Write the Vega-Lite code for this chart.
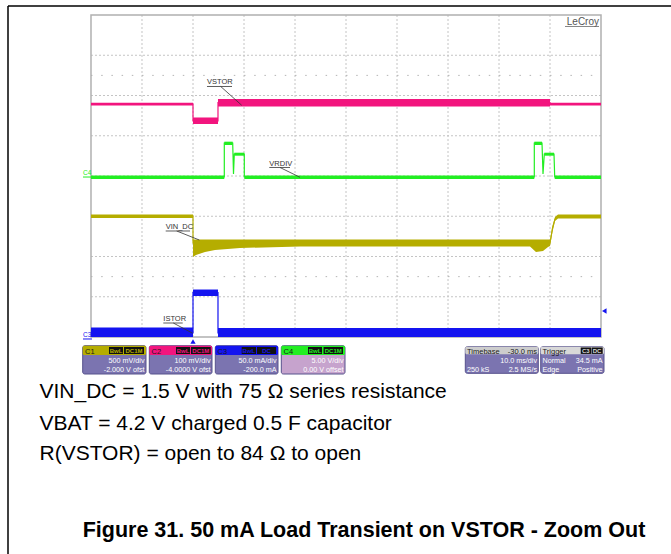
{
"$schema": "https://vega.github.io/schema/vega-lite/v6.json",
"width": 671, "height": 554, "autosize": {"type": "none"}, "padding": 0,
"background": "white",
"config": {"view": {"stroke": null}, "font": "Liberation Sans"},
"encoding": {
 "x": {"field": "t", "type": "quantitative", "scale": {"domain": [-37.843, 93.725], "nice": false, "zero": false}, "axis": null},
 "y": {"field": "d", "type": "quantitative", "scale": {"domain": [-9.391, 4.373], "nice": false, "zero": false}, "axis": null}
},
"datasets": {
 "grid": [
  {"t": -10, "d": -4, "t2": -10, "d2": 4}, {"t": 0, "d": -4, "t2": 0, "d2": 4}, {"t": 10, "d": -4, "t2": 10, "d2": 4},
  {"t": 20, "d": -4, "t2": 20, "d2": 4}, {"t": 30, "d": -4, "t2": 30, "d2": 4}, {"t": 40, "d": -4, "t2": 40, "d2": 4},
  {"t": 50, "d": -4, "t2": 50, "d2": 4}, {"t": 60, "d": -4, "t2": 60, "d2": 4}, {"t": 70, "d": -4, "t2": 70, "d2": 4},
  {"t": -20, "d": -3, "t2": 80, "d2": -3}, {"t": -20, "d": -2, "t2": 80, "d2": -2}, {"t": -20, "d": -1, "t2": 80, "d2": -1},
  {"t": -20, "d": 0, "t2": 80, "d2": 0}, {"t": -20, "d": 1, "t2": 80, "d2": 1}, {"t": -20, "d": 2, "t2": 80, "d2": 2},
  {"t": -20, "d": 3, "t2": 80, "d2": 3}
 ],
 "dots": [{"t": -20, "d": 2.5, "t2": 80, "d2": 2.5}, {"t": -20, "d": -2.5, "t2": 80, "d2": -2.5}],
 "border": [{"t": -20, "d": -4, "t2": 80, "d2": 4}],
 "bands": [
  {"ch": "C2", "seg": "a1", "t": -20, "d": 1.819, "d2": 1.752}, {"ch": "C2", "seg": "a1", "t": 0, "d": 1.819, "d2": 1.752},
  {"ch": "C2", "seg": "a2", "t": 0, "d": 1.454, "d2": 1.292}, {"ch": "C2", "seg": "a2", "t": 4.9, "d": 1.454, "d2": 1.292},
  {"ch": "C2", "seg": "a3", "t": 4.9, "d": 1.913, "d2": 1.727}, {"ch": "C2", "seg": "a3", "t": 70, "d": 1.913, "d2": 1.727},
  {"ch": "C2", "seg": "a4", "t": 70, "d": 1.819, "d2": 1.752}, {"ch": "C2", "seg": "a4", "t": 80, "d": 1.819, "d2": 1.752},
  {"ch": "C4", "seg": "g1", "t": -20, "d": 0.013, "d2": -0.074}, {"ch": "C4", "seg": "g1", "t": 6.137, "d": 0.013, "d2": -0.074},
  {"ch": "C4", "seg": "g2", "t": 6.137, "d": 0.853, "d2": 0.771}, {"ch": "C4", "seg": "g2", "t": 7.784, "d": 0.853, "d2": 0.771},
  {"ch": "C4", "seg": "g3", "t": 8.098, "d": 0.579, "d2": 0.505}, {"ch": "C4", "seg": "g3", "t": 10.059, "d": 0.579, "d2": 0.505},
  {"ch": "C4", "seg": "g4", "t": 10.059, "d": 0.013, "d2": -0.074}, {"ch": "C4", "seg": "g4", "t": 66.922, "d": 0.013, "d2": -0.074},
  {"ch": "C4", "seg": "g5", "t": 66.922, "d": 0.853, "d2": 0.771}, {"ch": "C4", "seg": "g5", "t": 68.432, "d": 0.853, "d2": 0.771},
  {"ch": "C4", "seg": "g6", "t": 68.883, "d": 0.579, "d2": 0.505}, {"ch": "C4", "seg": "g6", "t": 70.785, "d": 0.579, "d2": 0.505},
  {"ch": "C4", "seg": "g7", "t": 70.922, "d": 0.013, "d2": -0.074}, {"ch": "C4", "seg": "g7", "t": 80, "d": 0.013, "d2": -0.074},
  {"ch": "C1", "seg": "y1", "t": -20, "d": -0.956, "d2": -1.043}, {"ch": "C1", "seg": "y1", "t": 0, "d": -0.956, "d2": -1.043},
  {"ch": "C1", "seg": "y2", "t": 0, "d": -1.577, "d2": -2.012}, {"ch": "C1", "seg": "y2", "t": 0.588, "d": -1.577, "d2": -1.962},
  {"ch": "C1", "seg": "y2", "t": 2.353, "d": -1.577, "d2": -1.888}, {"ch": "C1", "seg": "y2", "t": 4.314, "d": -1.577, "d2": -1.838},
  {"ch": "C1", "seg": "y2", "t": 9.216, "d": -1.577, "d2": -1.789}, {"ch": "C1", "seg": "y2", "t": 20.981, "d": -1.577, "d2": -1.751},
  {"ch": "C1", "seg": "y2", "t": 66.079, "d": -1.577, "d2": -1.751}, {"ch": "C1", "seg": "y2", "t": 67.255, "d": -1.577, "d2": -1.888},
  {"ch": "C1", "seg": "y2", "t": 68.628, "d": -1.577, "d2": -1.863}, {"ch": "C1", "seg": "y2", "t": 69.608, "d": -1.577, "d2": -1.764},
  {"ch": "C1", "seg": "y2", "t": 70, "d": -1.577, "d2": -1.739},
  {"ch": "C1", "seg": "y3", "t": 70, "d": -1.6, "d2": -1.739}, {"ch": "C1", "seg": "y3", "t": 70.49, "d": -1.242, "d2": -1.391},
  {"ch": "C1", "seg": "y3", "t": 70.98, "d": -1.018, "d2": -1.118}, {"ch": "C1", "seg": "y3", "t": 71.569, "d": -0.956, "d2": -1.055},
  {"ch": "C1", "seg": "y3", "t": 80, "d": -0.956, "d2": -1.055},
  {"ch": "C3", "seg": "b1", "t": -20, "d": -3.764, "d2": -4.0}, {"ch": "C3", "seg": "b1", "t": 0, "d": -3.764, "d2": -4.0},
  {"ch": "C3", "seg": "b2", "t": 0, "d": -2.82, "d2": -2.981}, {"ch": "C3", "seg": "b2", "t": 4.9, "d": -2.82, "d2": -2.981},
  {"ch": "C3", "seg": "b3", "t": 4.9, "d": -3.776, "d2": -4.0}, {"ch": "C3", "seg": "b3", "t": 80, "d": -3.776, "d2": -4.0}
 ],
 "lines": [
  {"ch": "C2", "i": 1, "t": -20, "d": 1.784}, {"ch": "C2", "i": 2, "t": 0, "d": 1.784}, {"ch": "C2", "i": 3, "t": 0, "d": 1.367},
  {"ch": "C2", "i": 4, "t": 4.9, "d": 1.367}, {"ch": "C2", "i": 5, "t": 4.9, "d": 1.826}, {"ch": "C2", "i": 6, "t": 70, "d": 1.826},
  {"ch": "C2", "i": 7, "t": 70, "d": 1.784}, {"ch": "C2", "i": 8, "t": 80, "d": 1.784},
  {"ch": "C4", "i": 1, "t": -20, "d": -0.025}, {"ch": "C4", "i": 2, "t": 6.137, "d": -0.025}, {"ch": "C4", "i": 3, "t": 6.137, "d": 0.82},
  {"ch": "C4", "i": 4, "t": 7.784, "d": 0.82}, {"ch": "C4", "i": 5, "t": 7.941, "d": 0.05}, {"ch": "C4", "i": 6, "t": 8.098, "d": 0.547},
  {"ch": "C4", "i": 7, "t": 10.059, "d": 0.547}, {"ch": "C4", "i": 8, "t": 10.059, "d": -0.025}, {"ch": "C4", "i": 9, "t": 66.922, "d": -0.025},
  {"ch": "C4", "i": 10, "t": 66.922, "d": 0.82}, {"ch": "C4", "i": 11, "t": 68.432, "d": 0.82}, {"ch": "C4", "i": 12, "t": 68.628, "d": 0.05},
  {"ch": "C4", "i": 13, "t": 68.883, "d": 0.547}, {"ch": "C4", "i": 14, "t": 70.785, "d": 0.547}, {"ch": "C4", "i": 15, "t": 70.922, "d": -0.025},
  {"ch": "C4", "i": 16, "t": 80, "d": -0.025},
  {"ch": "C1", "i": 1, "t": -20, "d": -0.993}, {"ch": "C1", "i": 2, "t": 0, "d": -0.993}, {"ch": "C1", "i": 3, "t": 0, "d": -1.664},
  {"ch": "C1", "i": 4, "t": 70, "d": -1.664}, {"ch": "C1", "i": 5, "t": 70.49, "d": -1.292}, {"ch": "C1", "i": 6, "t": 70.98, "d": -1.068},
  {"ch": "C1", "i": 7, "t": 71.569, "d": -1.006}, {"ch": "C1", "i": 8, "t": 80, "d": -1.006},
  {"ch": "C3", "i": 1, "t": -20, "d": -3.9}, {"ch": "C3", "i": 2, "t": 0, "d": -3.9}, {"ch": "C3", "i": 3, "t": 0, "d": -2.894},
  {"ch": "C3", "i": 4, "t": 4.9, "d": -2.894}, {"ch": "C3", "i": 5, "t": 4.9, "d": -3.9}, {"ch": "C3", "i": 6, "t": 80, "d": -3.9}
 ],
 "leaders": [
  {"t": 2.745, "d": 2.224, "t2": 7.647, "d2": 2.224}, {"t": 5.432, "d": 2.224, "t2": 9.55, "d2": 1.757},
  {"t": 14.961, "d": 0.212, "t2": 19.02, "d2": 0.212}, {"t": 17.059, "d": 0.212, "t2": 20.98, "d2": -0.032},
  {"t": -5.353, "d": -1.366, "t2": -0.588, "d2": -1.366}, {"t": -3.196, "d": -1.366, "t2": 1.235, "d2": -1.59},
  {"t": -5.823, "d": -3.652, "t2": -2.019, "d2": -3.652}, {"t": -3.863, "d": -3.652, "t2": -0.059, "d2": -3.908}
 ],
 "labels": [
  {"txt": "VSTOR", "t": 2.745, "d": 2.286}, {"txt": "VRDIV", "t": 14.961, "d": 0.256},
  {"txt": "VIN_DC", "t": -5.353, "d": -1.316}, {"txt": "ISTOR", "t": -5.823, "d": -3.602}
 ],
 "brand": [{"txt": "LeCroy", "t": 79.608, "d": 3.752}],
 "brandline": [{"t": 72.941, "d": 3.715, "t2": 79.608, "d2": 3.715}],
 "markers": [{"ch": "C4", "txt": "C4", "t": -21.568, "d": 0.025}, {"ch": "C3", "txt": "C3", "t": -21.568, "d": -4.0}],
 "markerlines": [{"ch": "C4", "t": -21.568, "d": -0.025, "t2": -19.804, "d2": -0.025}, {"ch": "C3", "t": -21.568, "d": -4.049, "t2": -19.804, "d2": -4.049}],
 "triangles": [{"k": "pos", "t": 0, "d": -4.111}, {"k": "lvl", "t": 80.647, "d": -3.354}],
 "boxes": [
  {"ch": "C1", "t": -21.627, "t2": -9.216, "d": -4.216, "d2": -4.919, "h": -4.447},
  {"ch": "C2", "t": -8.568, "t2": 3.726, "d": -4.216, "d2": -4.919, "h": -4.447},
  {"ch": "C3", "t": 4.373, "t2": 16.667, "d": -4.216, "d2": -4.919, "h": -4.447},
  {"ch": "C4", "t": 17.314, "t2": 29.804, "d": -4.216, "d2": -4.919, "h": -4.447},
  {"ch": "TB", "t": 53.392, "t2": 67.706, "d": -4.241, "d2": -4.902, "h": -4.43},
  {"ch": "TR", "t": 68.177, "t2": 80.588, "d": -4.241, "d2": -4.902, "h": -4.43}
 ],
 "tags": [
  {"ch": "C1", "txt": "BwL", "t": -16.47, "t2": -13.725, "tc": -15.098, "d": -4.248, "d2": -4.422, "db": -4.397},
  {"ch": "C1", "txt": "DC1M", "t": -13.53, "t2": -9.608, "tc": -11.569, "d": -4.248, "d2": -4.422, "db": -4.397},
  {"ch": "C2", "txt": "BwL", "t": -3.333, "t2": -0.588, "tc": -1.961, "d": -4.248, "d2": -4.422, "db": -4.397},
  {"ch": "C2", "txt": "DC1M", "t": -0.392, "t2": 3.471, "tc": 1.54, "d": -4.248, "d2": -4.422, "db": -4.397},
  {"ch": "C3", "txt": "BwL", "t": 9.549, "t2": 12.353, "tc": 10.951, "d": -4.248, "d2": -4.422, "db": -4.397},
  {"ch": "C3", "txt": "DC", "t": 12.549, "t2": 16.275, "tc": 14.412, "d": -4.248, "d2": -4.422, "db": -4.397},
  {"ch": "C4", "txt": "BwL", "t": 22.549, "t2": 25.3, "tc": 23.925, "d": -4.248, "d2": -4.422, "db": -4.397},
  {"ch": "C4", "txt": "DC1M", "t": 25.6, "t2": 29.412, "tc": 27.506, "d": -4.248, "d2": -4.422, "db": -4.397},
  {"ch": "TR", "txt": "C3", "t": 76.02, "t2": 78.04, "tc": 77.03, "d": -4.26, "d2": -4.42, "db": -4.397},
  {"ch": "TR", "txt": "DC", "t": 78.137, "t2": 80.333, "tc": 79.235, "d": -4.26, "d2": -4.42, "db": -4.397}
 ],
 "headleft": [
  {"txt": "C1", "t": -21.176, "d": -4.41}, {"txt": "C2", "t": -8.137, "d": -4.41}, {"txt": "C3", "t": 4.804, "d": -4.41},
  {"txt": "C4", "t": 17.745, "d": -4.41}, {"txt": "Timebase", "t": 53.726, "d": -4.41}, {"txt": "Trigger", "t": 68.53, "d": -4.41}
 ],
 "headright": [{"txt": "-30.0 ms", "t": 67.451, "d": -4.41}],
 "bodyright": [
  {"txt": "500 mV/div", "t": -9.51, "d": -4.646}, {"txt": "-2.000 V ofst", "t": -9.51, "d": -4.869},
  {"txt": "100 mV/div", "t": 3.432, "d": -4.646}, {"txt": "-4.0000 V ofst", "t": 3.432, "d": -4.869},
  {"txt": "50.0 mA/div", "t": 16.373, "d": -4.646}, {"txt": "-200.0 mA", "t": 16.373, "d": -4.869},
  {"txt": "5.00 V/div", "t": 29.51, "d": -4.646}, {"txt": "0.00 V offset", "t": 29.51, "d": -4.869},
  {"txt": "10.0 ms/div", "t": 67.451, "d": -4.646}, {"txt": "2.5 MS/s", "t": 67.451, "d": -4.869},
  {"txt": "34.5 mA", "t": 80.294, "d": -4.646}, {"txt": "Positive", "t": 80.294, "d": -4.869}
 ],
 "bodyleft": [
  {"txt": "250 kS", "t": 53.726, "d": -4.869}, {"txt": "Normal", "t": 68.53, "d": -4.646}, {"txt": "Edge", "t": 68.53, "d": -4.869}
 ],
 "notes": [
  {"txt": "VIN_DC = 1.5 V with 75 Ω series resistance", "t": -30.098, "d": -5.523},
  {"txt": "VBAT = 4.2 V charged 0.5 F capacitor", "t": -30.098, "d": -6.298},
  {"txt": "R(VSTOR) = open to 84 Ω to open", "t": -30.098, "d": -7.068}
 ],
 "caption": [{"txt": "Figure 31. 50 mA Load Transient on VSTOR - Zoom Out", "t": -21.627, "d": -8.961}],
 "frame": [{"t": -36.274, "d": 4.224, "t2": 93.725, "d2": 4.224}, {"t": -36.274, "d": 4.224, "t2": -36.274, "d2": -9.391}],
 "anchor": [{"t": 30, "d": 0}]
},
"layer": [
 {"data": {"name": "grid"}, "mark": {"type": "rule", "stroke": "#c4c4c4", "strokeWidth": 1, "strokeDash": [2, 2]},
  "encoding": {"x2": {"field": "t2"}, "y2": {"field": "d2"}}},
 {"data": {"name": "dots"}, "mark": {"type": "rule", "stroke": "#b4b4b4", "strokeWidth": 1, "strokeDash": [1.5, 8.7]},
  "encoding": {"x2": {"field": "t2"}, "y2": {"field": "d2"}}},
 {"data": {"name": "border"}, "mark": {"type": "rect", "fill": null, "fillOpacity": 0, "stroke": "#b0b0b0", "strokeWidth": 1.5},
  "encoding": {"x2": {"field": "t2"}, "y2": {"field": "d2"}}},
 {"data": {"name": "anchor"}, "mark": {"type": "point", "opacity": 0},
  "encoding": {
   "x": {"field": "t", "type": "quantitative", "scale": {"domain": [-37.843, 93.725], "nice": false, "zero": false},
    "axis": {"orient": "bottom", "offset": -379.5, "title": null, "labels": false, "domain": false, "grid": false, "tickSize": 3, "tickColor": "#b0b0b0",
     "values": [-20,-18,-16,-14,-12,-10,-8,-6,-4,-2,0,2,4,6,8,10,12,14,16,18,20,22,24,26,28,30,32,34,36,38,40,42,44,46,48,50,52,54,56,58,60,62,64,66,68,70,72,74,76,78,80]}},
   "y": {"field": "d", "type": "quantitative", "scale": {"domain": [-9.391, 4.373], "nice": false, "zero": false},
    "axis": {"orient": "left", "offset": -347.5, "title": null, "labels": false, "domain": false, "grid": false, "tickSize": 3, "tickColor": "#b0b0b0",
     "values": [-4,-3.8,-3.6,-3.4,-3.2,-3,-2.8,-2.6,-2.4,-2.2,-2,-1.8,-1.6,-1.4,-1.2,-1,-0.8,-0.6,-0.4,-0.2,0,0.2,0.4,0.6,0.8,1,1.2,1.4,1.6,1.8,2,2.2,2.4,2.6,2.8,3,3.2,3.4,3.6,3.8,4]}}
  }},
 {"data": {"name": "bands"}, "mark": {"type": "area", "opacity": 1},
  "encoding": {"y2": {"field": "d2"}, "detail": {"field": "seg"},
   "fill": {"field": "ch", "type": "nominal", "legend": null, "scale": {"domain": ["C1", "C2", "C3", "C4", "TB", "TR"], "range": ["#b5ad00", "#f2157e", "#1414f0", "#22ee22", "#cdcdcd", "#d8d8d8"]}}}},
 {"data": {"name": "lines"}, "mark": {"type": "line", "strokeWidth": 1.2},
  "encoding": {"order": {"field": "i", "type": "quantitative"},
   "stroke": {"field": "ch", "type": "nominal", "legend": null, "scale": {"domain": ["C1", "C2", "C3", "C4", "TB", "TR"], "range": ["#b5ad00", "#f2157e", "#1414f0", "#22ee22", "#cdcdcd", "#d8d8d8"]}}}},
 {"data": {"name": "leaders"}, "mark": {"type": "rule", "stroke": "#333333", "strokeWidth": 0.8},
  "encoding": {"x2": {"field": "t2"}, "y2": {"field": "d2"}}},
 {"data": {"name": "labels"}, "mark": {"type": "text", "align": "left", "baseline": "alphabetic", "fontSize": 7.5, "fill": "#333333"},
  "encoding": {"text": {"field": "txt"}}},
 {"data": {"name": "brand"}, "mark": {"type": "text", "align": "right", "baseline": "alphabetic", "fontSize": 10, "fill": "#555555"},
  "encoding": {"text": {"field": "txt"}}},
 {"data": {"name": "brandline"}, "mark": {"type": "rule", "stroke": "#666666", "strokeWidth": 0.8},
  "encoding": {"x2": {"field": "t2"}, "y2": {"field": "d2"}}},
 {"data": {"name": "markers"}, "mark": {"type": "text", "align": "left", "baseline": "alphabetic", "fontSize": 6.5},
  "encoding": {"text": {"field": "txt"},
   "fill": {"field": "ch", "type": "nominal", "legend": null, "scale": {"domain": ["C1", "C2", "C3", "C4", "TB", "TR"], "range": ["#b5ad00", "#f2157e", "#1414f0", "#22ee22", "#cdcdcd", "#d8d8d8"]}}}},
 {"data": {"name": "markerlines"}, "mark": {"type": "rule", "strokeWidth": 1},
  "encoding": {"x2": {"field": "t2"}, "y2": {"field": "d2"},
   "stroke": {"field": "ch", "type": "nominal", "legend": null, "scale": {"domain": ["C1", "C2", "C3", "C4", "TB", "TR"], "range": ["#b5ad00", "#f2157e", "#1414f0", "#22ee22", "#cdcdcd", "#d8d8d8"]}}}},
 {"data": {"name": "triangles"}, "mark": {"type": "point", "filled": true, "fill": "#1414f0", "size": 28, "opacity": 1},
  "encoding": {"shape": {"condition": {"test": "datum.k === 'lvl'", "value": "triangle-left"}, "value": "triangle-up"}}},
 {"data": {"name": "boxes"}, "mark": {"type": "rect", "stroke": "#57528c", "strokeWidth": 1, "cornerRadius": 2},
  "encoding": {"x2": {"field": "t2"}, "y2": {"field": "d2"},
   "fill": {"condition": {"test": "datum.ch === 'C4'", "value": "#c6a3cd"}, "value": "#7b74b0"}}},
 {"data": {"name": "boxes"}, "mark": {"type": "rect", "cornerRadius": 1.5},
  "encoding": {"x2": {"field": "t2"}, "y2": {"field": "h"},
   "fill": {"field": "ch", "type": "nominal", "legend": null, "scale": {"domain": ["C1", "C2", "C3", "C4", "TB", "TR"], "range": ["#b5ad00", "#f2157e", "#1414f0", "#22ee22", "#cdcdcd", "#d8d8d8"]}}}},
 {"data": {"name": "tags"}, "mark": {"type": "rect", "fill": "#111111"},
  "encoding": {"x2": {"field": "t2"}, "y2": {"field": "d2"}}},
 {"data": {"name": "tags"}, "mark": {"type": "text", "align": "center", "baseline": "alphabetic", "fontSize": 6, "fontWeight": "bold"},
  "encoding": {"x": {"field": "tc", "type": "quantitative", "scale": {"domain": [-37.843, 93.725], "nice": false, "zero": false}, "axis": null},
   "y": {"field": "db", "type": "quantitative", "scale": {"domain": [-9.391, 4.373], "nice": false, "zero": false}, "axis": null},
   "text": {"field": "txt"},
   "fill": {"field": "ch", "type": "nominal", "legend": null, "scale": {"domain": ["C1", "C2", "C3", "C4", "TB", "TR"], "range": ["#b5ad00", "#f2157e", "#1414f0", "#22ee22", "#cdcdcd", "#d8d8d8"]}}}},
 {"data": {"name": "headleft"}, "mark": {"type": "text", "align": "left", "baseline": "alphabetic", "fontSize": 7.5, "fill": "#1a1a1a"},
  "encoding": {"text": {"field": "txt"}}},
 {"data": {"name": "headright"}, "mark": {"type": "text", "align": "right", "baseline": "alphabetic", "fontSize": 7.5, "fill": "#1a1a1a"},
  "encoding": {"text": {"field": "txt"}}},
 {"data": {"name": "bodyright"}, "mark": {"type": "text", "align": "right", "baseline": "alphabetic", "fontSize": 7.2, "fill": "#ffffff"},
  "encoding": {"text": {"field": "txt"}}},
 {"data": {"name": "bodyleft"}, "mark": {"type": "text", "align": "left", "baseline": "alphabetic", "fontSize": 7.2, "fill": "#ffffff"},
  "encoding": {"text": {"field": "txt"}}},
 {"data": {"name": "notes"}, "mark": {"type": "text", "align": "left", "baseline": "alphabetic", "fontSize": 21, "fill": "#000000"},
  "encoding": {"text": {"field": "txt"}}},
 {"data": {"name": "caption"}, "mark": {"type": "text", "align": "left", "baseline": "alphabetic", "fontSize": 21.5, "fontWeight": "bold", "fill": "#000000"},
  "encoding": {"text": {"field": "txt"}}},
 {"data": {"name": "frame"}, "mark": {"type": "rule", "stroke": "#000000", "strokeWidth": 1.5},
  "encoding": {"x2": {"field": "t2"}, "y2": {"field": "d2"}}}
]
}
